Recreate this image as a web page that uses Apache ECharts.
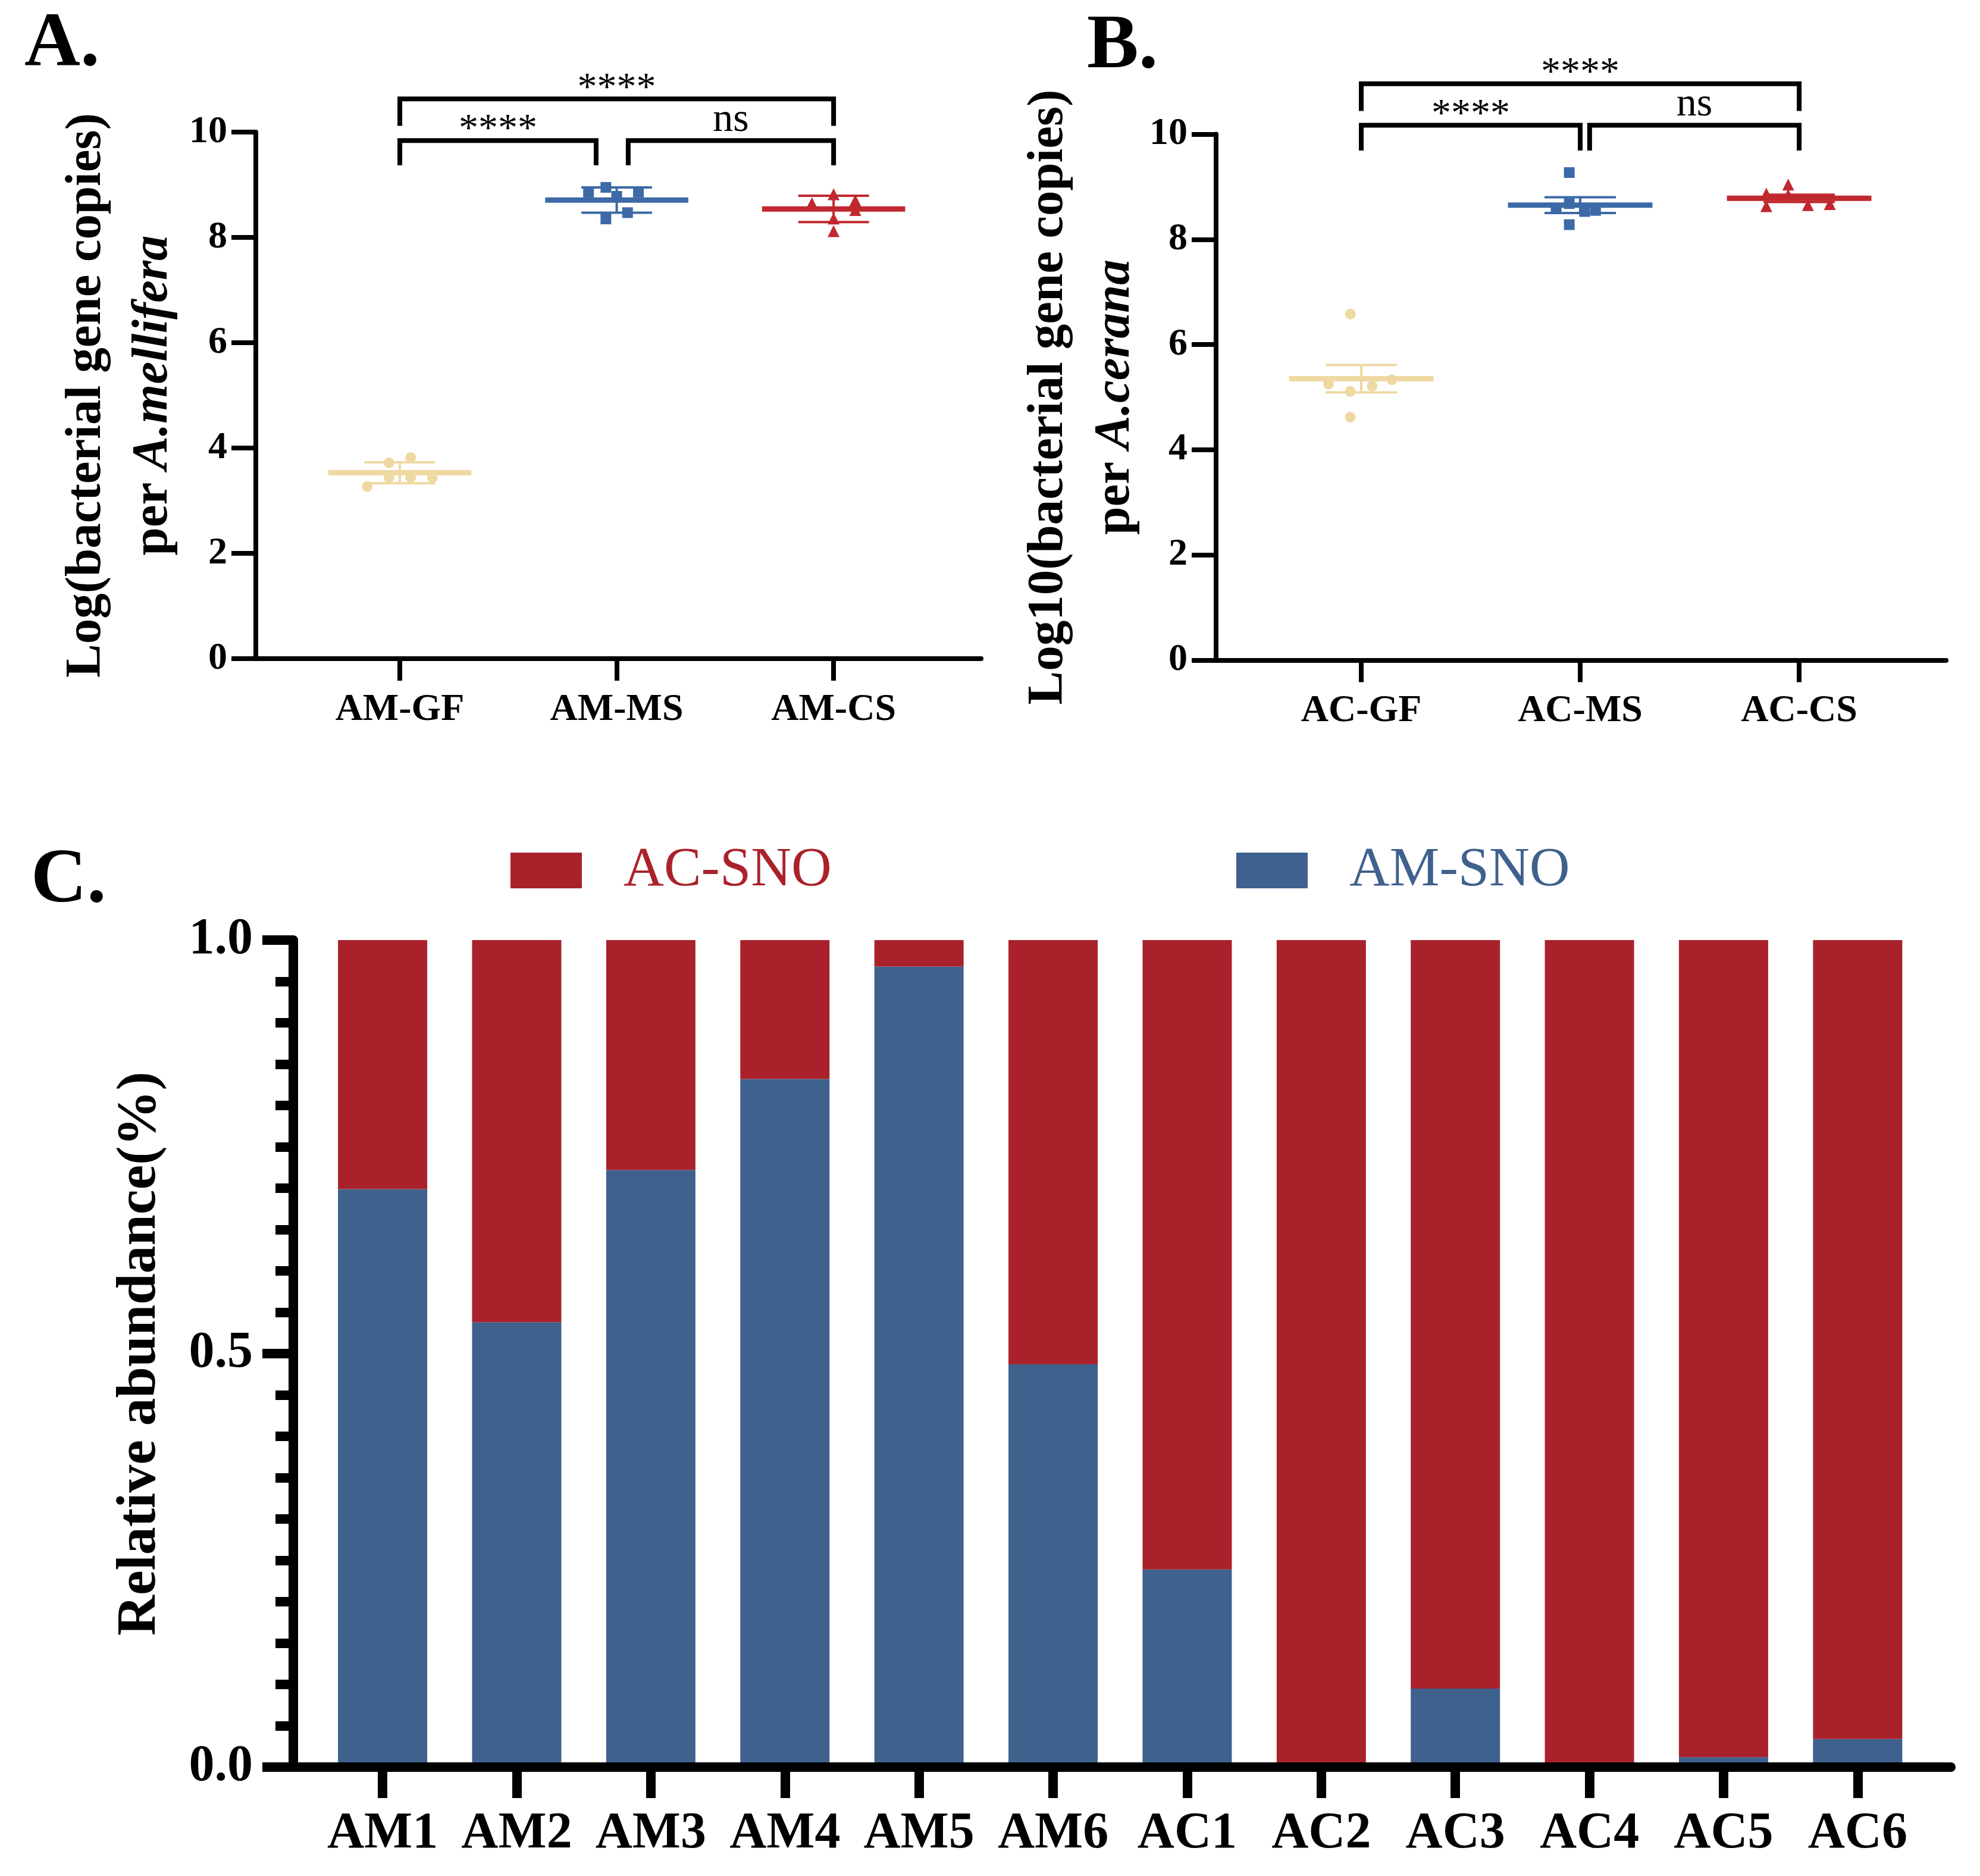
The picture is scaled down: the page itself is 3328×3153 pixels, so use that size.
<!DOCTYPE html>
<html>
<head>
<meta charset="utf-8">
<script src="https://cdn.jsdelivr.net/npm/echarts@6/dist/echarts.min.js"></script>
<style>html,body{margin:0;padding:0;background:#fff}#c{width:3328px;height:3153px}</style>
</head>
<body>
<div id="c"></div>
<script>
// ---------- DATA ----------
const groupsA = ['AM-GF', 'AM-MS', 'AM-CS'];
const valsA = [
  [3.72, 3.82, 3.27, 3.44, 3.44, 3.44],
  [8.86, 8.95, 8.86, 8.35, 8.47, 8.78],
  [8.65, 8.82, 8.70, 8.52, 8.36, 8.12]
];
const jitA = [
  [-0.05, 0.05, -0.15, -0.05, 0.05, 0.15],
  [-0.13, -0.05, 0.10, -0.05, 0.05, 0.00],
  [-0.10, 0.00, 0.10, 0.10, 0.00, 0.00]
];
const meanA = [3.53, 8.71, 8.54];
const errA = [0.20, 0.24, 0.25];

const groupsB = ['AC-GF', 'AC-MS', 'AC-CS'];
const valsB = [
  [6.58, 5.25, 5.11, 5.21, 5.33, 4.62],
  [9.27, 8.28, 8.68, 8.59, 8.55, 8.53],
  [9.04, 8.87, 8.63, 8.65, 8.67, 8.85]
];
const jitB = [
  [-0.05, -0.15, -0.05, 0.05, 0.14, -0.05],
  [-0.05, -0.05, -0.05, -0.11, 0.07, 0.02],
  [-0.05, -0.15, -0.15, 0.04, 0.14, -0.05]
];
const meanB = [5.35, 8.65, 8.78];
const errB = [0.26, 0.15, 0.07];

// significance brackets: [x1, x2, yHorizontal, yLegEnd]
const brA = [[0, 2, 10.63, 10.12], [0, 0.905, 9.84, 9.37], [1.053, 2, 9.84, 9.37]];
const brLabelA = ['****', '****', 'ns'];
const brB = [[0, 2, 10.96, 10.44], [0, 1.0, 10.17, 9.69], [1.043, 2, 10.17, 9.69]];
const brLabelB = ['****', '****', 'ns'];

const samplesC = ['AM1', 'AM2', 'AM3', 'AM4', 'AM5', 'AM6', 'AC1', 'AC2', 'AC3', 'AC4', 'AC5', 'AC6'];
const amSNO = [0.699, 0.538, 0.722, 0.832, 0.968, 0.487, 0.239, 0, 0.095, 0, 0.012, 0.034];
const acSNO = [0.301, 0.462, 0.278, 0.168, 0.032, 0.513, 0.761, 1, 0.905, 1, 0.988, 0.966];

// ---------- STYLE ----------
const FF = "'Liberation Serif','Times New Roman',serif";
const cGF = '#EFD9A3', cMS = '#3D69A6', cCS = '#C0282E';
const cRed = '#A9222B', cBlue = '#3F618D';
const symbols = ['circle', 'rect', 'triangle'];
const groupColors = [cGF, cMS, cCS];

function meanErrRender(colors) {
  return function (params, api) {
    const g = api.value(0), m = api.value(1), e = api.value(2);
    const c = colors[params.dataIndex];
    const p = (x, y) => api.coord([x, y]);
    const mk = (a, b, w) => ({ type: 'line', shape: { x1: a[0], y1: a[1], x2: b[0], y2: b[1] }, style: { stroke: c, lineWidth: w } });
    return { type: 'group', children: [
      mk(p(g, m - e), p(g, m + e), 4),
      mk(p(g - 0.163, m + e), p(g + 0.163, m + e), 4),
      mk(p(g - 0.163, m - e), p(g + 0.163, m - e), 4),
      mk(p(g - 0.33, m), p(g + 0.33, m), 9)
    ] };
  };
}
function bracketRender(brs, labels) {
  return function (params, api) {
    const b = brs[params.dataIndex];
    const a1 = api.coord([b[0], b[3]]), a2 = api.coord([b[0], b[2]]);
    const a3 = api.coord([b[1], b[2]]), a4 = api.coord([b[1], b[3]]);
    const mid = api.coord([(b[0] + b[1]) / 2, b[2]]);
    const lab = labels[params.dataIndex];
    const isNs = lab === 'ns';
    return { type: 'group', children: [
      { type: 'polyline', shape: { points: [a1, a2, a3, a4] }, style: { stroke: '#000', lineWidth: 8, fill: null } },
      { type: 'text', style: { text: lab, x: mid[0], y: mid[1] - (isNs ? 34 : 17), align: 'center', verticalAlign: 'middle',
        fontSize: isNs ? 68 : 66, fontFamily: FF, fill: '#000' } }
    ] };
  };
}

function scatterPanel(gi, vals, jit, means, errs, brs, brLabels) {
  const s = [];
  s.push({ type: 'custom', xAxisIndex: gi, yAxisIndex: gi, renderItem: meanErrRender(groupColors),
    data: means.map((m, g) => [g, m, errs[g]]), z: 2, silent: true });
  vals.forEach((arr, g) => {
    s.push({ type: 'scatter', xAxisIndex: gi, yAxisIndex: gi, symbol: symbols[g], symbolSize: g === 2 ? 20 : 18,
      itemStyle: { color: groupColors[g], opacity: 1 }, data: arr.map((v, j) => [g + jit[g][j], v]), z: 3, silent: true });
  });
  s.push({ type: 'custom', xAxisIndex: gi, yAxisIndex: gi, renderItem: bracketRender(brs, brLabels),
    data: brs.map((b, k) => [b[0], b[2], k]), z: 4, silent: true, clip: false });
  return s;
}

function xAxisAB(gi, groups, min, max) {
  return { gridIndex: gi, type: 'value', min: min, max: max, splitLine: { show: false },
    axisLine: { onZero: false, lineStyle: { color: '#000', width: 8 } },
    axisTick: { customValues: [0, 1, 2], length: 37, lineStyle: { color: '#000', width: 8 } },
    axisLabel: { customValues: [0, 1, 2], formatter: v => groups[Math.round(v)], margin: 54,
      fontSize: 64, fontWeight: 'bold', fontFamily: FF, color: '#000' } };
}
function yAxisAB(gi, name, gap) {
  return { gridIndex: gi, type: 'value', min: 0, max: 10, interval: 2, splitLine: { show: false },
    axisLine: { show: true, onZero: false, lineStyle: { color: '#000', width: 8 } },
    axisTick: { show: true, length: 41, lineStyle: { color: '#000', width: 8 } },
    axisLabel: { margin: 48, fontSize: 64, fontWeight: 'bold', fontFamily: FF, color: '#000' },
    name: name, nameLocation: 'middle', nameRotate: 90, nameGap: gap,
    nameTextStyle: { rich: {
      n: { fontSize: 85, fontWeight: 'bold', fontFamily: FF, color: '#000', lineHeight: 112 },
      i: { fontSize: 85, fontWeight: 'bold', fontStyle: 'italic', fontFamily: 'Liberation Serif', color: '#000', lineHeight: 112 } } } };
}

const chart = echarts.init(document.getElementById('c'), null, { renderer: 'canvas' });
const option = {
  backgroundColor: '#fff',
  animation: false,
  title: [
    { text: 'A.', left: 41, top: 10, padding: 0, textStyle: { fontSize: 130, fontWeight: 'bold', fontFamily: FF, color: '#000' } },
    { text: 'B.', left: 1827, top: 14, padding: 0, textStyle: { fontSize: 130, fontWeight: 'bold', fontFamily: FF, color: '#000' } },
    { text: 'C.', left: 52, top: 1416, padding: 0, textStyle: { fontSize: 130, fontWeight: 'bold', fontFamily: FF, color: '#000' } }
  ],
  legend: {
    left: 853, top: 1411, itemWidth: 120, itemHeight: 60, itemGap: 680, icon: 'rect', selectedMode: false,
    data: [ { name: 'AC-SNO', textStyle: { color: cRed } }, { name: 'AM-SNO', textStyle: { color: cBlue } } ],
    textStyle: { fontSize: 94, fontFamily: FF, padding: [0, 0, 0, 65] }
  },
  grid: [
    { left: 430, top: 222, width: 1219, height: 885 },
    { left: 2044, top: 225.5, width: 1227, height: 884 },
    { left: 493, top: 1580, width: 2786, height: 1390 }
  ],
  xAxis: [
    xAxisAB(0, groupsA, -0.664, 2.680),
    xAxisAB(1, groupsB, -0.663, 2.671),
    { gridIndex: 2, type: 'value', min: -0.666, max: 11.695, splitLine: { show: false }, z: 10,
      axisLine: { onZero: false, lineStyle: { color: '#000', width: 16 } },
      axisTick: { customValues: samplesC.map((s, i) => i), length: 52, lineStyle: { color: '#000', width: 16 } },
      axisLabel: { customValues: samplesC.map((s, i) => i), formatter: v => samplesC[Math.round(v)], margin: 70,
        fontSize: 86, fontWeight: 'bold', fontFamily: FF, color: '#000' } }
  ],
  yAxis: [
    yAxisAB(0, '{n|Log(bacterial gene copies)}\n{n|per }{i|A.mellifera}', 116),
    yAxisAB(1, '{n|Log10(bacterial gene copies)}\n{n|per }{i|A.cerana}', 113),
    { gridIndex: 2, type: 'value', min: 0, max: 1, interval: 0.5, splitLine: { show: false }, z: 10,
      axisLine: { show: true, onZero: false, lineStyle: { color: '#000', width: 16 } },
      axisTick: { show: true, length: 52, lineStyle: { color: '#000', width: 16 } },
      minorTick: { show: true, splitNumber: 10, length: 30, lineStyle: { color: '#000', width: 16 } },
      axisLabel: { margin: 68, fontSize: 86, fontWeight: 'bold', fontFamily: FF, color: '#000', formatter: v => v.toFixed(1) },
      name: 'Relative abundance(%)', nameLocation: 'middle', nameRotate: 90, nameGap: 202,
      nameTextStyle: { fontSize: 94, fontWeight: 'bold', fontFamily: FF, color: '#000', lineHeight: 110 } }
  ],
  series: [
    ...scatterPanel(0, valsA, jitA, meanA, errA, brA, brLabelA),
    ...scatterPanel(1, valsB, jitB, meanB, errB, brB, brLabelB),
    { type: 'bar', name: 'AM-SNO', xAxisIndex: 2, yAxisIndex: 2, stack: 'c', barWidth: 150,
      encode: { x: 1, y: 0 },
      itemStyle: { color: cBlue }, data: amSNO.map((v, i) => [v, i]), silent: true },
    { type: 'bar', name: 'AC-SNO', xAxisIndex: 2, yAxisIndex: 2, stack: 'c', barWidth: 150,
      encode: { x: 1, y: 0 },
      itemStyle: { color: cRed }, data: acSNO.map((v, i) => [v, i]), silent: true }
  ]
};
chart.setOption(option);
</script>
</body>
</html>
